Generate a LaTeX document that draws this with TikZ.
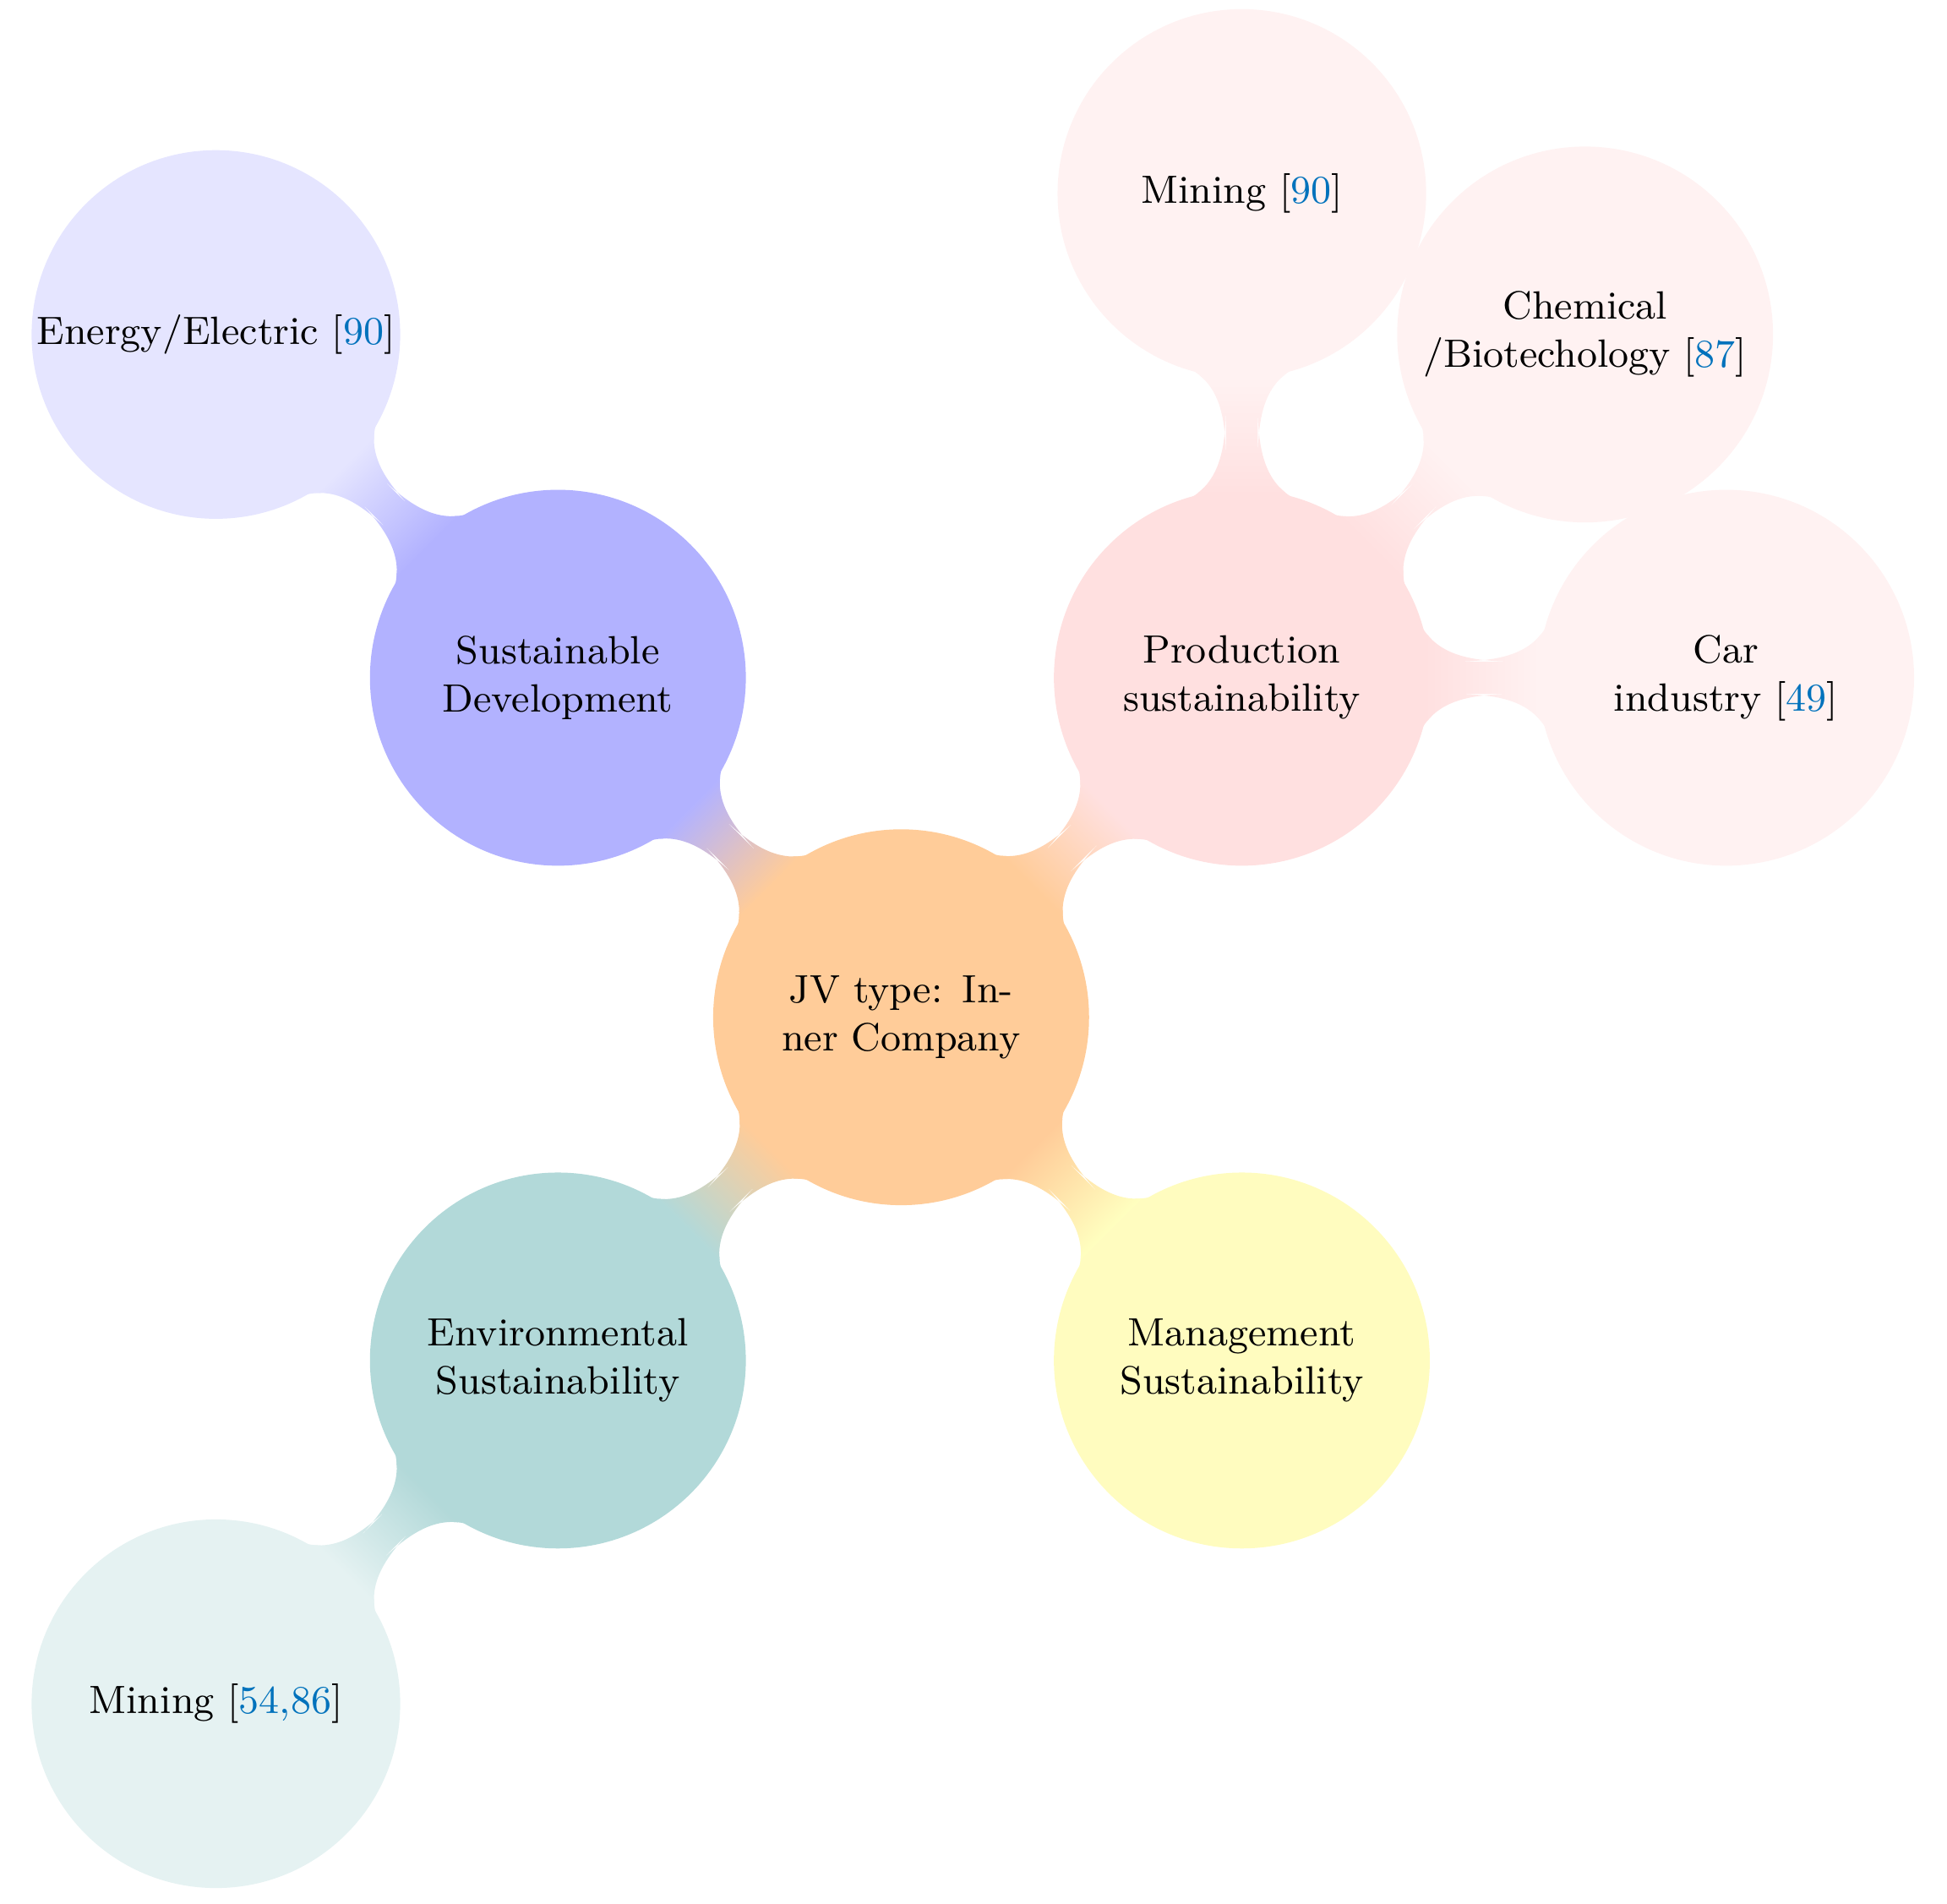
\documentclass[tikz,border=0pt]{standalone}
\usepackage{mathpazo}
\usetikzlibrary{mindmap}
\definecolor{citeblue}{RGB}{0,114,188}
\newcommand{\cit}[1]{[\textcolor{citeblue}{#1}]}
\begin{document}
\begin{tikzpicture}[mindmap,
  every node/.style={concept, minimum size=2.8cm, text width=2.9cm, align=center, font=\small, inner sep=0pt},
  lvtwo/.style={minimum size=2.75cm}]
\useasboundingbox (0,0) rectangle (15.6,-15.25);
\node[concept color=orange!40] (c) at (7.22,-8.15) {JV type: Inner Company};
\node[concept color=blue!30] (sd) at (4.47,-5.43) {Sustainable Development};
\node[concept color=red!12] (ps) at (9.95,-5.43) {Production sustainability};
\node[concept color=teal!30] (es) at (4.47,-10.9) {Environmental Sustainability};
\node[concept color=yellow!25] (ms) at (9.95,-10.9) {Management Sustainability};
\node[lvtwo, concept color=blue!10] (ee) at (1.73,-2.68) {Energy/Electric \cit{90}};
\node[lvtwo, concept color=red!5] (m1) at (9.95,-1.55) {Mining \cit{90}};
\node[lvtwo, concept color=red!5] (ch) at (12.7,-2.68) {Chemical\\ /Biotechology \cit{87}};
\node[lvtwo, concept color=red!5] (car) at (13.83,-5.43) {Car\\ industry \cit{49}};
\node[lvtwo, concept color=teal!10] (m2) at (1.73,-13.65) {Mining \cit{54,86}};
\path (c) to[circle connection bar switch color=from (orange!40) to (blue!30)] (sd);
\path (c) to[circle connection bar switch color=from (orange!40) to (red!12)] (ps);
\path (c) to[circle connection bar switch color=from (orange!40) to (teal!30)] (es);
\path (c) to[circle connection bar switch color=from (orange!40) to (yellow!25)] (ms);
\path (sd) to[circle connection bar switch color=from (blue!30) to (blue!10)] (ee);
\path (ps) to[circle connection bar switch color=from (red!12) to (red!5)] (m1);
\path (ps) to[circle connection bar switch color=from (red!12) to (red!5)] (ch);
\path (ps) to[circle connection bar switch color=from (red!12) to (red!5)] (car);
\path (es) to[circle connection bar switch color=from (teal!30) to (teal!10)] (m2);
\end{tikzpicture}
\end{document}
